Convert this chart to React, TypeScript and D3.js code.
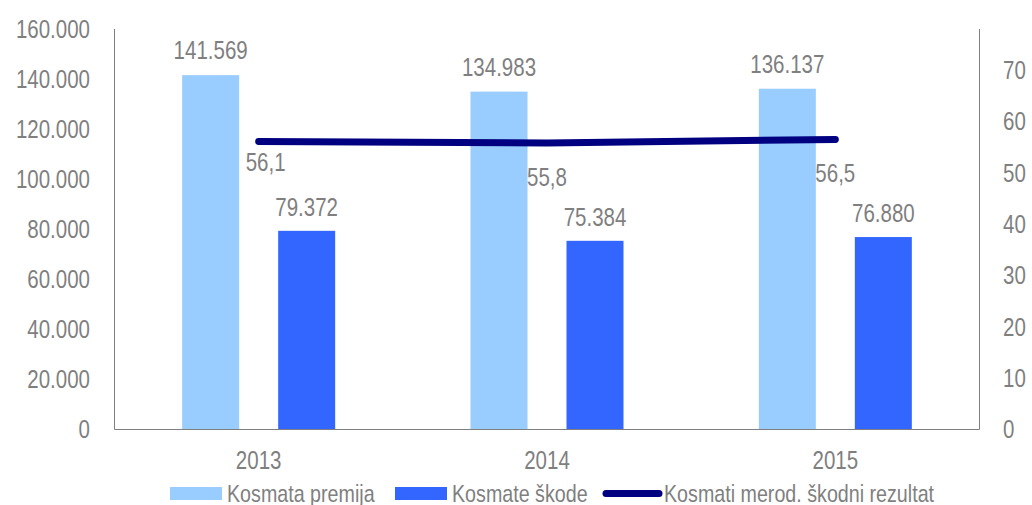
import React from "react";
import * as d3 from "d3";

const categories = ["2013", "2014", "2015"];
const premija = [141569, 134983, 136137];
const skode = [79372, 75384, 76880];
const rezultat = [56.1, 55.8, 56.5];
const leftTicks = [0, 20000, 40000, 60000, 80000, 100000, 120000, 140000, 160000];
const rightTicks = [0, 10, 20, 30, 40, 50, 60, 70];
const seriesNames = ["Kosmata premija", "Kosmate škode", "Kosmati merod. škodni rezultat"];

const W = 1032, H = 505;
const M = { left: 114.5, right: 979.5, top: 29, bottom: 429.5 };
const FONT = "'Liberation Sans', Arial, sans-serif";
const GRAY = "#7f7f7f";
const C1 = "#99ccff", C2 = "#3366ff", C3 = "#000080";
const SX = 0.82;
// label offsets for the line's data labels (dx of left edge, dy of centre)
const lineLabelOffsets = [[-13, 21], [-20, 34], [-20, 34]];

const fmt = (v: number) => d3.format(",")(v).replace(/,/g, ".");

function T({ x, y, anchor = "start", size = 25, dy = "0", children }: any) {
  return (
    <text transform={`translate(${x},${y}) scale(${SX},1)`} textAnchor={anchor} fontSize={size} dy={dy} fill={GRAY}>
      {children}
    </text>
  );
}

export default function App() {
  const x = d3.scaleBand().domain(categories).range([M.left, M.right]);
  const yL = d3.scaleLinear().domain([0, 160000]).range([M.bottom, M.top]);
  const yR = d3.scaleLinear().domain([0, 78]).range([M.bottom, M.top]);
  const barW = 57, gap = 39;
  const cx = (c: string) => (x(c) as number) + x.bandwidth() / 2;
  const line = d3.line<number>().x((_, i) => cx(categories[i])).y((d) => yR(d));
  return (
    <svg width={W} height={H} style={{ position: "absolute", left: 0, top: 0, display: "block" }}
      fontFamily={FONT}>
      {categories.map((c, i) => {
        const x1 = cx(c) - gap / 2 - barW;
        const x2 = cx(c) + gap / 2;
        return (
          <g key={c}>
            <rect x={x1} y={yL(premija[i])} width={barW} height={yL(0) - yL(premija[i])} fill={C1} />
            <rect x={x2} y={yL(skode[i])} width={barW} height={yL(0) - yL(skode[i])} fill={C2} />
            <T x={x1 + barW / 2} y={yL(premija[i]) - 16} anchor="middle">{fmt(premija[i])}</T>
            <T x={x2 + barW / 2} y={yL(skode[i]) - 15} anchor="middle">{fmt(skode[i])}</T>
            <T x={cx(c)} y={469} anchor="middle">{c}</T>
          </g>
        );
      })}
      <path d={line(rezultat) || ""} fill="none" stroke={C3} strokeWidth={7} strokeLinecap="round" strokeLinejoin="round" />
      {rezultat.map((v, i) => (
        <T key={i} x={cx(categories[i]) + lineLabelOffsets[i][0]} y={yR(v) + lineLabelOffsets[i][1]} dy="0.35em">
          {d3.format(".1f")(v).replace(".", ",")}
        </T>
      ))}
      <line x1={M.left} x2={M.left} y1={M.top} y2={M.bottom} stroke={GRAY} strokeWidth={1} />
      <line x1={M.right} x2={M.right} y1={M.top} y2={M.bottom} stroke={GRAY} strokeWidth={1} />
      <line x1={M.left} x2={M.right} y1={M.bottom} y2={M.bottom} stroke={GRAY} strokeWidth={1} />
      {leftTicks.map((t) => (
        <T key={t} x={90} y={yL(t)} dy="0.35em" anchor="end">{fmt(t)}</T>
      ))}
      {rightTicks.map((t) => (
        <T key={t} x={1003} y={yR(t)} dy="0.35em">{t}</T>
      ))}
      <rect x={170} y={487} width={52} height={13} fill={C1} />
      <T x={227} y={502} size={24}>{seriesNames[0]}</T>
      <rect x={395} y={487} width={52} height={13} fill={C2} />
      <T x={452} y={502} size={24}>{seriesNames[1]}</T>
      <line x1={606} x2={659} y1={493.5} y2={493.5} stroke={C3} strokeWidth={7} strokeLinecap="round" />
      <T x={664} y={502} size={24}>{seriesNames[2]}</T>
    </svg>
  );
}
